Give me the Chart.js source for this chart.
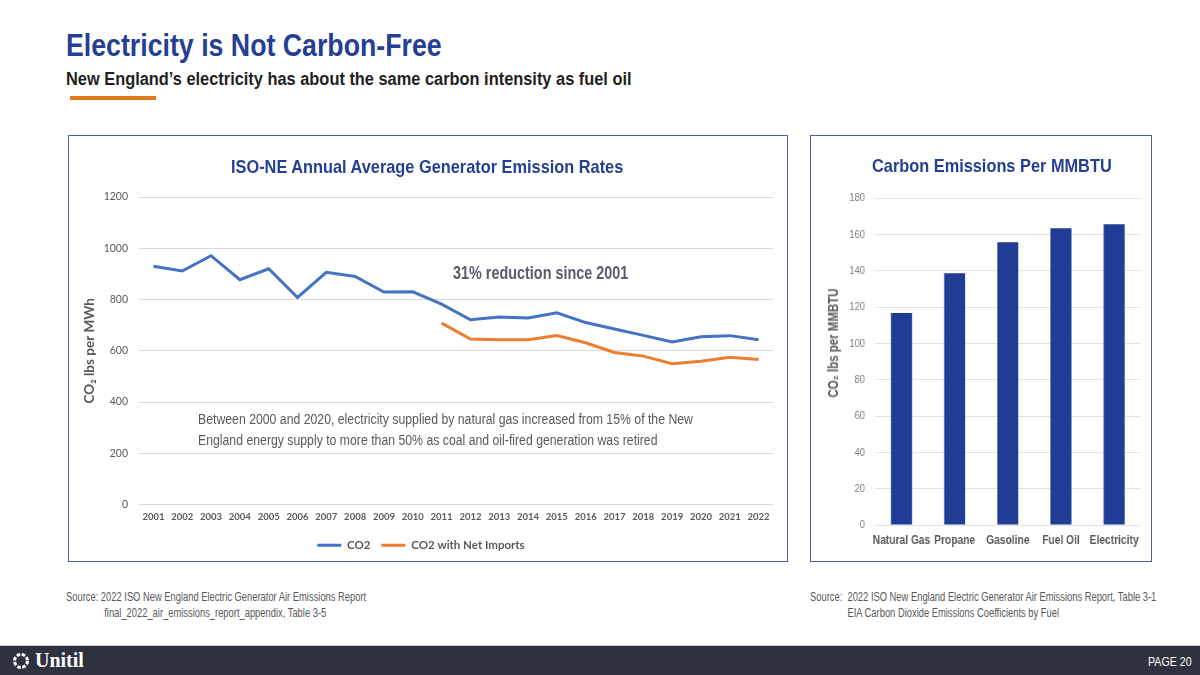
<!DOCTYPE html>
<html lang="en">
<head>
  <meta charset="UTF-8">
  <title>Electricity is Not Carbon-Free</title>
  <script src="https://cdn.jsdelivr.net/npm/chart.js"></script>
  <style>
    body {
      margin: 0;
      width: 1200px;
      height: 675px;
      position: relative;
      overflow: hidden;
      background: #fff;
      font-family: 'Liberation Sans', Arial, sans-serif;
    }
    .abs { position: absolute; }
    /* no Arial Narrow here, so squeeze Liberation Sans sideways */
    .narrow { transform-origin: left top; white-space: nowrap; line-height: 1; }
    .title { left: 66px; top: 29px; font-size: 32px; font-weight: bold; color: #253f94; transform: scaleX(0.835); }
    .subtitle { left: 66px; top: 70px; font-size: 18px; font-weight: bold; color: #1f1f1f; transform: scaleX(0.91); }
    .rule { left: 70px; top: 96px; width: 86px; height: 4px; background: #e07b1a; }
    .panel { box-sizing: border-box; border: 1px solid #4c5e9c; top: 135px; height: 427px; }
    .panel canvas { display: block; }
    .chart-title { font-size: 19px; font-weight: bold; color: #253f94; transform: scaleX(0.86); }
    .source { font-size: 12px; line-height: 16px; color: #595959; transform: scaleX(0.78); }
    .footer { left: 0; top: 645px; width: 1200px; height: 30px; background: #2e323e; border-top: 1px solid #c8c8c8; }
    .brand { left: 35px; top: 4px; font-family: 'Liberation Serif', 'DejaVu Serif', serif;
      font-size: 20px; font-weight: bold; color: #fff; line-height: 1; }
    .page { left: 1148px; top: 9px; font-size: 13px; color: #fff; transform: scaleX(0.82); }
  </style>
</head>
<body>

<div class="abs narrow title">Electricity is Not Carbon-Free</div>
<div class="abs narrow subtitle">New England’s electricity has about the same carbon intensity as fuel oil</div>
<div class="abs rule"></div>

<!-- left panel: generator emission rates -->
<div class="abs panel" style="left:68px; width:720px;">
  <canvas id="rates" width="718" height="425"></canvas>
  <div class="abs narrow chart-title" style="left:162px; top:21px;">ISO-NE Annual Average Generator Emission Rates</div>
  <div class="abs narrow" style="left:384px; top:128px; font-size:18px; font-weight:bold; color:#595b6e; transform:scaleX(0.8);">31% reduction since 2001</div>
  <div class="abs narrow" style="left:129px; top:273px; font-size:14px; line-height:20.5px; color:#595959; transform:scaleX(0.876);">Between 2000 and 2020, electricity supplied by natural gas increased from 15% of the New<br>England energy supply to more than 50% as coal and oil-fired generation was retired</div>
</div>

<!-- right panel: carbon per MMBTU (canvas drawn wide, then squeezed like Arial Narrow) -->
<div class="abs panel" style="left:810px; width:342px;">
  <div class="abs" style="left:0; top:0; width:415px; height:425px; transform-origin:left top; transform:scaleX(0.8193);">
    <canvas id="fuels" width="415" height="425"></canvas>
  </div>
  <div class="abs narrow chart-title" style="left:61px; top:20px;">Carbon Emissions Per MMBTU</div>
  <div class="abs" style="left:22px; top:207px; font-size:14px; font-weight:bold; color:#595959; white-space:nowrap; line-height:1;
       transform:translate(-50%,-50%) rotate(-90deg) scaleX(0.82);">CO₂ lbs per MMBTU</div>
</div>

<div class="abs narrow source" style="left:66px; top:589px;">Source: 2022 ISO New England Electric Generator Air Emissions Report<br>
  <span style="padding-left:49px;">final_2022_air_emissions_report_appendix, Table 3-5</span></div>
<div class="abs narrow source" style="left:810px; top:589px;">Source:&nbsp; 2022 ISO New England Electric Generator Air Emissions Report, Table 3-1<br>
  <span style="padding-left:48px;">EIA Carbon Dioxide Emissions Coefficients by Fuel</span></div>

<div class="abs footer">
  <svg class="abs" style="left:12px; top:6px;" width="18" height="18" viewBox="0 0 18 18">
    <circle cx="9" cy="9" r="6.5" fill="none" stroke="#fff" stroke-width="3" stroke-dasharray="3.5 1.6"/>
  </svg>
  <div class="abs brand">Unitil</div>
  <div class="abs narrow page">PAGE 20</div>
</div>

<script>
const years = ['2001', '2002', '2003', '2004', '2005', '2006', '2007', '2008', '2009', '2010', '2011',
  '2012', '2013', '2014', '2015', '2016', '2017', '2018', '2019', '2020', '2021', '2022'];
const co2 = [930, 911, 971, 877, 920, 808, 906, 890, 829, 830, 782,
  721, 732, 728, 748, 710, 685, 660, 634, 655, 659, 643];
const co2NetImports = [null, null, null, null, null, null, null, null, null, null, 708,
  646, 643, 643, 659, 631, 593, 579, 549, 559, 575, 566];
const rateTicks = [0, 200, 400, 600, 800, 1000, 1200];

const fuels = ['Natural Gas', 'Propane', 'Gasoline', 'Fuel Oil', 'Electricity'];
const fuelCo2 = [116.7, 138.6, 155.6, 163.4, 165.5];
const fuelTicks = [0, 20, 40, 60, 80, 100, 120, 140, 160, 180];

const calibri = 'Lato, "Open Sans", sans-serif';
const arial = '"Liberation Sans", Arial, sans-serif';

Chart.defaults.animation = false;

new Chart(document.getElementById('rates'), {
  type: 'line',
  data: {
    labels: years,
    datasets: [
      { label: 'CO2', data: co2, borderColor: '#4472c4', backgroundColor: '#4472c4',
        borderWidth: 3, pointRadius: 0, tension: 0 },
      { label: 'CO2 with Net Imports', data: co2NetImports, borderColor: '#ed7d31', backgroundColor: '#ed7d31',
        borderWidth: 3, pointRadius: 0, tension: 0 }
    ]
  },
  options: {
    responsive: false,
    layout: { padding: { top: 61, left: 0, right: 14, bottom: 0 } },
    plugins: {
      tooltip: { enabled: false },
      legend: {
        position: 'bottom',
        labels: {
          usePointStyle: true, pointStyle: 'line', pointStyleWidth: 24,
          color: '#595959', font: { family: calibri, size: 11.5, weight: 'bold' }, padding: 11
        }
      }
    },
    scales: {
      x: {
        offset: true,
        afterFit: axis => { axis.height = 24; },
        grid: { display: false, drawTicks: false },
        border: { display: false },
        ticks: { color: '#595959', font: { family: calibri, size: 9.5, weight: 'bold' }, padding: 7,
          maxRotation: 0, autoSkip: false }
      },
      y: {
        min: 0, max: 1200,
        afterBuildTicks: axis => { axis.ticks = rateTicks.map(v => ({ value: v })); },
        afterFit: axis => { axis.width = 70; },
        grid: { color: '#d9d9d9', drawTicks: false },
        border: { display: false },
        ticks: { color: '#595959', font: { family: calibri, size: 10.5 }, padding: 11, callback: v => v },
        title: { display: true, text: 'CO₂ lbs per MWh', color: '#595959',
          font: { family: calibri, size: 13.5, weight: 'bold' }, padding: { top: 13, bottom: 0 } }
      }
    }
  }
});

new Chart(document.getElementById('fuels'), {
  type: 'bar',
  data: {
    labels: fuels,
    datasets: [{ data: fuelCo2, backgroundColor: '#213c94', borderWidth: 0,
      barPercentage: 0.395, categoryPercentage: 1 }]
  },
  options: {
    responsive: false,
    layout: { padding: { top: 62, left: 0, right: 12.6, bottom: 0 } },
    plugins: { legend: { display: false }, tooltip: { enabled: false } },
    scales: {
      x: {
        afterFit: axis => { axis.height = 36; },
        grid: { display: false, drawTicks: false },
        border: { display: false },
        ticks: { color: '#595959', font: { family: arial, size: 12.5, weight: 'bold' }, padding: 8.5,
          maxRotation: 0, autoSkip: false }
      },
      y: {
        min: 0, max: 180,
        afterBuildTicks: axis => { axis.ticks = fuelTicks.map(v => ({ value: v })); },
        afterFit: axis => { axis.width = 78; },
        grid: { color: '#e2e2e2', drawTicks: false },
        border: { display: false },
        ticks: { color: '#7f7f7f', font: { family: arial, size: 11.5 }, padding: 12 }
      }
    }
  }
});
</script>
</body>
</html>
